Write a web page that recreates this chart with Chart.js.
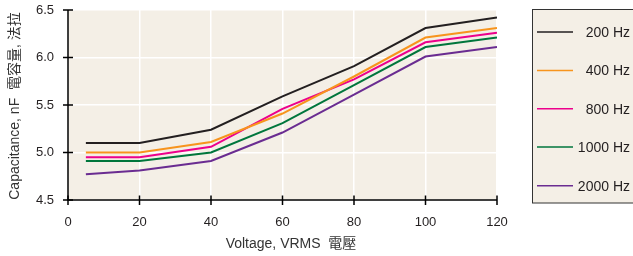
<!DOCTYPE html>
<html>
<head>
<meta charset="utf-8">
<script src="https://cdn.jsdelivr.net/npm/chart.js@4"></script>
<style>
html,body{margin:0;padding:0;background:#fff;}
#wrap{width:633px;height:256px;position:relative;}
</style>
</head>
<body>
<div id="wrap"><canvas id="c" width="633" height="256"></canvas></div>
<script>
const voltages = [5, 20, 40, 60, 80, 100, 120];
const seriesNames = ['200 Hz', '400 Hz', '800 Hz', '1000 Hz', '2000 Hz'];
const cap200 = [5.10, 5.10, 5.24, 5.59, 5.91, 6.31, 6.42];
const cap400 = [5.00, 5.00, 5.11, 5.41, 5.80, 6.21, 6.31];
const cap800 = [4.95, 4.95, 5.06, 5.46, 5.77, 6.16, 6.26];
const cap1000 = [4.91, 4.91, 5.00, 5.31, 5.71, 6.11, 6.21];
const cap2000 = [4.77, 4.81, 4.91, 5.21, 5.61, 6.01, 6.11];
const xTickValues = [0, 20, 40, 60, 80, 100, 120];
const yTickValues = [4.5, 5.0, 5.5, 6.0, 6.5];
const xTitle = 'Voltage, VRMS  電壓';
const yTitle = 'Capacitance, nF  電容量, 法拉';

const colors = ['#231f20', '#f7941d', '#ec008c', '#00763c', '#6a2c91'];
const allSeries = [cap200, cap400, cap800, cap1000, cap2000];
const FONT = "'Liberation Sans', Arial, 'Noto Sans CJK TC', sans-serif";
const BG = '#f4efe6';

const datasets = allSeries.map((vals, i) => ({
  label: seriesNames[i],
  data: vals.map((v, j) => ({x: voltages[j], y: v})),
  borderColor: colors[i],
  backgroundColor: colors[i],
  borderWidth: 2,
  pointRadius: 0,
  tension: 0,
  fill: false
}));

const decor = {
  id: 'decor',
  beforeDraw(chart) {
    const {ctx, chartArea: a} = chart;
    ctx.save();
    ctx.fillStyle = BG;
    ctx.fillRect(a.left, a.top, a.right - a.left, a.bottom - a.top);
    ctx.restore();
  },
  afterDraw(chart) {
    const {ctx, chartArea: a} = chart;
    const xs = chart.scales.x, ys = chart.scales.y;
    ctx.save();
    ctx.strokeStyle = '#000';
    ctx.lineWidth = 1.5;
    ctx.beginPath();
    ctx.moveTo(a.left, a.top);
    ctx.lineTo(a.left, a.bottom);
    ctx.lineTo(a.right, a.bottom);
    ctx.stroke();
    ctx.beginPath();
    xTickValues.forEach(v => {
      const px = xs.getPixelForValue(v);
      ctx.moveTo(px, a.bottom - 4.5);
      ctx.lineTo(px, a.bottom + 5);
    });
    yTickValues.forEach(v => {
      const py = ys.getPixelForValue(v);
      ctx.moveTo(a.left - 5, py);
      ctx.lineTo(a.left + 5, py);
    });
    ctx.stroke();
    ctx.fillStyle = '#333';
    ctx.font = '14px ' + FONT;
    ctx.textAlign = 'center';
    ctx.textBaseline = 'middle';
    ctx.fillText(xTitle, 291, 244);
    ctx.save();
    ctx.translate(15, 106);
    ctx.rotate(-Math.PI / 2);
    ctx.fillText(yTitle, 0, 0);
    ctx.restore();
    ctx.fillStyle = BG;
    ctx.fillRect(532, 9.5, 110, 193.5);
    ctx.strokeStyle = '#333';
    ctx.lineWidth = 1;
    ctx.strokeRect(532.5, 9.5, 120, 193.5);
    const rows = [32, 70.5, 108.7, 147, 185.7];
    chart.data.datasets.forEach((ds, i) => {
      const y = rows[i];
      ctx.strokeStyle = ds.borderColor;
      ctx.lineWidth = 1.5;
      ctx.beginPath();
      ctx.moveTo(537, y);
      ctx.lineTo(573, y);
      ctx.stroke();
      ctx.fillStyle = '#231f20';
      ctx.font = '14px ' + FONT;
      ctx.textAlign = 'right';
      ctx.textBaseline = 'middle';
      ctx.fillText(ds.label, 630, y + 1);
    });
    ctx.restore();
  }
};

new Chart(document.getElementById('c'), {
  type: 'line',
  data: {datasets},
  plugins: [decor],
  options: {
    responsive: false,
    animation: false,
    events: [],
    layout: {autoPadding: false, padding: {top: 10, right: 136, left: 0, bottom: 0}},
    plugins: {legend: {display: false}, tooltip: {enabled: false}},
    scales: {
      x: {
        type: 'linear',
        min: 0, max: 120,
        afterFit(s) { s.height = 56; s.paddingLeft = 0; s.paddingRight = 0; },
        afterBuildTicks(s) { s.ticks = xTickValues.map(v => ({value: v})); },
        ticks: {color: '#231f20', font: {family: FONT, size: 13}, padding: 15, maxRotation: 0},
        grid: {color: '#ffffff', lineWidth: 1.5, drawTicks: false},
        border: {display: false}
      },
      y: {
        min: 4.5, max: 6.5,
        afterFit(s) { s.width = 68; s.paddingTop = 0; s.paddingBottom = 0; },
        afterBuildTicks(s) { s.ticks = yTickValues.map(v => ({value: v})); },
        ticks: {color: '#231f20', font: {family: FONT, size: 13}, padding: 14,
          callback: v => Number(v).toFixed(1)},
        grid: {color: '#ffffff', lineWidth: 1.5, drawTicks: false},
        border: {display: false}
      }
    }
  }
});
</script>
</body>
</html>
